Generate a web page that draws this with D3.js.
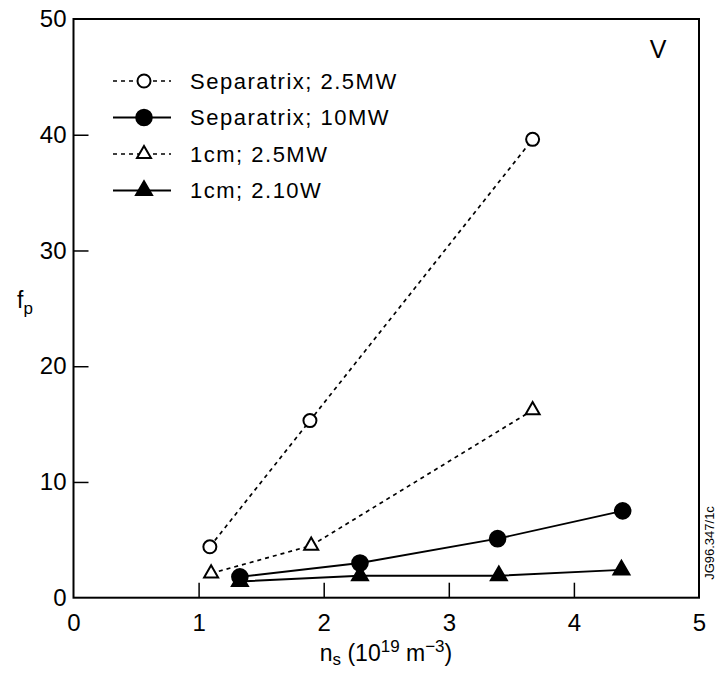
<!DOCTYPE html>
<html>
<head>
<meta charset="utf-8">
<script src="https://cdn.jsdelivr.net/npm/d3@7"></script>
<style>
  body { margin: 0; background: #fff; }
  svg { font-family: 'Liberation Sans', Arial, sans-serif; }
</style>
</head>
<body>
<svg id="canvas" width="718" height="674"></svg>
<script>
// values
let xTicks = [0, 1, 2, 3, 4, 5];
let yTicks = [0, 10, 20, 30, 40, 50];

let sep25X = [1.09, 1.89, 3.67];
let sep25Y = [4.4, 15.3, 39.6];
let sep10X = [1.33, 2.29, 3.39, 4.39];
let sep10Y = [1.8, 3.0, 5.1, 7.5];
let cm25X = [1.10, 1.90, 3.67];
let cm25Y = [2.1, 4.5, 16.2];
let cm10X = [1.33, 2.29, 3.40, 4.38];
let cm10Y = [1.4, 1.9, 1.9, 2.4];

let seriesNames = ['Separatrix; 2.5MW', 'Separatrix; 10MW', '1cm; 2.5MW', '1cm; 2.10W'];

let canvas = d3.select('#canvas');

let x = d3.scaleLinear().domain([0, 5]).range([73.5, 699]);
let y = d3.scaleLinear().domain([0, 50]).range([597.7, 19]);

let series = [
  { name: seriesNames[0], xs: sep25X, ys: sep25Y, shape: 'circle', filled: false, dashed: true },
  { name: seriesNames[1], xs: sep10X, ys: sep10Y, shape: 'circle', filled: true, dashed: false },
  { name: seriesNames[2], xs: cm25X, ys: cm25Y, shape: 'triangle', filled: false, dashed: true },
  { name: seriesNames[3], xs: cm10X, ys: cm10Y, shape: 'triangle', filled: true, dashed: false }
];

let markerPath = (s) => {
  if (s.shape === 'circle') {
    let r = s.filled ? 7.8 : 6.5;
    return d3.symbol(d3.symbolCircle, Math.PI * r * r)();
  }
  let a = s.filled ? 16 : 14;
  return d3.symbol(d3.symbolTriangle, Math.sqrt(3) / 4 * a * a)();
};

// frame
canvas.append('rect')
  .attr('x', x(0)).attr('y', y(50))
  .attr('width', x(5) - x(0)).attr('height', y(0) - y(50))
  .attr('fill', 'none').attr('stroke', '#000').attr('stroke-width', 2);

// axes with inward ticks
let xAxis = d3.axisBottom(x).tickValues(xTicks).tickSize(-15).tickPadding(24).tickFormat(d3.format('d'));
let gx = canvas.append('g').attr('transform', 'translate(0,' + y(0) + ')').call(xAxis);
gx.select('.domain').remove();
gx.selectAll('.tick line').filter((d) => d === 0 || d === 5).remove();
gx.selectAll('.tick line').attr('stroke-width', 1.5);
gx.selectAll('.tick text').attr('font-size', 24).attr('font-family', 'Liberation Sans, Arial, sans-serif').attr('dy', '0.38em');

let yAxis = d3.axisLeft(y).tickValues(yTicks).tickSize(-15).tickPadding(7).tickFormat(d3.format('d'));
let gy = canvas.append('g').attr('transform', 'translate(' + x(0) + ',0)').call(yAxis);
gy.select('.domain').remove();
gy.selectAll('.tick line').filter((d) => d === 0 || d === 50).remove();
gy.selectAll('.tick line').attr('stroke-width', 1.5);
gy.selectAll('.tick text').attr('font-size', 24).attr('font-family', 'Liberation Sans, Arial, sans-serif');

// lines and markers
let line = d3.line().x((d) => x(d[0])).y((d) => y(d[1]));

series.forEach((s) => {
  let pts = s.xs.map((v, i) => [v, s.ys[i]]);
  canvas.append('path')
    .attr('d', line(pts))
    .attr('fill', 'none')
    .attr('stroke', '#000')
    .attr('stroke-width', s.dashed ? 1.7 : 1.9)
    .attr('stroke-dasharray', s.dashed ? '4,4' : null);
});

series.forEach((s) => {
  let pts = s.xs.map((v, i) => [v, s.ys[i]]);
  canvas.selectAll(null)
    .data(pts)
    .enter()
    .append('path')
    .attr('d', markerPath(s))
    .attr('transform', (d) => 'translate(' + x(d[0]) + ',' + y(d[1]) + ')')
    .attr('fill', s.filled ? '#000' : '#fff')
    .attr('stroke', '#000')
    .attr('stroke-width', 2);
});

// legend
let legend = canvas.append('g');
series.forEach((s, i) => {
  let ly = 81 + i * 36.5;
  legend.append('line')
    .attr('x1', 113).attr('x2', 171).attr('y1', ly).attr('y2', ly)
    .attr('stroke', '#000')
    .attr('stroke-width', s.dashed ? 1.5 : 1.9)
    .attr('stroke-dasharray', s.dashed ? '4,4' : null);
  legend.append('path')
    .attr('d', markerPath(s))
    .attr('transform', 'translate(144,' + ly + ')')
    .attr('fill', s.filled ? '#000' : '#fff')
    .attr('stroke', '#000')
    .attr('stroke-width', 2);
  legend.append('text')
    .attr('x', 190).attr('y', ly + 7.5)
    .attr('font-size', 22)
    .attr('letter-spacing', 1.5)
    .text(s.name);
});

// panel label
canvas.append('text').attr('x', 658).attr('y', 58).attr('text-anchor', 'middle')
  .attr('font-size', 25).text('V');

// axis titles
let yt = canvas.append('text').attr('x', 17).attr('y', 308).attr('font-size', 23);
yt.append('tspan').text('f');
yt.append('tspan').attr('font-size', 17).attr('dy', 6).text('p');

let xt = canvas.append('text').attr('x', 386).attr('y', 661).attr('text-anchor', 'middle').attr('font-size', 23);
xt.append('tspan').text('n');
xt.append('tspan').attr('font-size', 17).attr('dy', 4).text('s');
xt.append('tspan').attr('dy', -4).text(' (10');
xt.append('tspan').attr('font-size', 17).attr('dy', -9).text('19');
xt.append('tspan').attr('dy', 9).text(' m');
xt.append('tspan').attr('font-size', 17).attr('dy', -9).text('\u22123');
xt.append('tspan').attr('dy', 9).text(')');

// figure id
canvas.append('text')
  .attr('transform', 'translate(714,543) rotate(-90)')
  .attr('text-anchor', 'middle')
  .attr('font-size', 13)
  .text('JG96.347/1c');
</script>
</body>
</html>
